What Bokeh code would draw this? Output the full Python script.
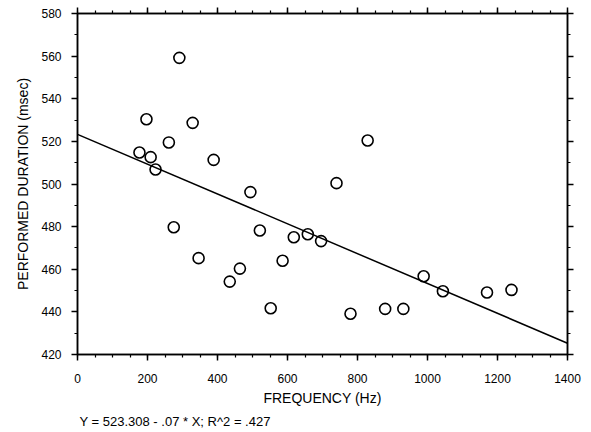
from bokeh.plotting import figure
from bokeh.models import Range1d, LinearAxis, Title, FixedTicker
from bokeh.embed import file_html
from bokeh.resources import INLINE

# data
freq = [177, 197, 209, 223, 261, 275, 291, 329, 346, 389, 435, 464, 494, 521,
        552, 586, 618, 658, 696, 740, 780, 829, 879, 931, 989, 1044, 1170, 1240]
dur = [514.8, 530.4, 512.6, 506.8, 519.5, 479.7, 559.2, 528.7, 465.2, 511.3,
       454.2, 460.3, 496.2, 478.2, 441.7, 464.0, 475.0, 476.4, 473.2, 500.4,
       439.1, 520.4, 441.4, 441.4, 456.7, 449.7, 449.1, 450.3]
fit_x = [0, 1400]
fit_y = [523.308, 425.308]
x_ticks = [0, 200, 400, 600, 800, 1000, 1200, 1400]
y_ticks = [420, 440, 460, 480, 500, 520, 540, 560, 580]
x_label = "FREQUENCY (Hz)"
y_label = "PERFORMED DURATION (msec)"
footnote = "Y = 523.308 - .07 * X; R^2 = .427"

FONT = "Liberation Sans"

p = figure(width=591, height=432, output_backend="svg", toolbar_location=None,
           x_range=Range1d(0, 1400), y_range=Range1d(420, 580),
           min_border_left=77, min_border_right=24, min_border_top=13,
           min_border_bottom=78)
p.background_fill_color = "white"
p.border_fill_color = "white"
p.outline_line_color = "black"
p.outline_line_width = 1.5
p.xgrid.visible = False
p.ygrid.visible = False

def style(ax, ticks, minor, labels=True):
    ax.ticker = FixedTicker(ticks=ticks, minor_ticks=minor)
    ax.axis_line_color = "black"
    ax.axis_line_width = 1.5
    ax.major_tick_line_color = "black"
    ax.major_tick_line_width = 1.5
    ax.minor_tick_line_color = "black"
    ax.minor_tick_line_width = 1.2
    ax.major_tick_out = 6
    ax.major_tick_in = 0
    ax.minor_tick_out = 3
    ax.minor_tick_in = 0
    if labels:
        ax.major_label_text_font = FONT
        ax.major_label_text_font_size = "12px"
        ax.major_label_text_color = "black"
        ax.axis_label_text_font = FONT
        ax.axis_label_text_font_size = "14px"
        ax.axis_label_text_font_style = "normal"
        ax.axis_label_text_color = "black"
    else:
        ax.major_label_overrides = {t: "" for t in ticks}
        ax.major_label_standoff = 0

x_minor = list(range(0, 1401, 50))
y_minor = list(range(420, 581, 10))

xa = p.xaxis[0]
style(xa, x_ticks, x_minor)
xa.axis_label = x_label
xa.major_label_standoff = 13
xa.axis_label_standoff = 4

ya = p.yaxis[0]
style(ya, y_ticks, y_minor)
ya.axis_label = y_label
ya.major_label_standoff = 10
ya.axis_label_standoff = 7

top = LinearAxis()
style(top, x_ticks, x_minor, labels=False)
p.add_layout(top, "above")
right = LinearAxis()
style(right, y_ticks, y_minor, labels=False)
p.add_layout(right, "right")

p.line(fit_x, fit_y, line_color="black", line_width=1.5)
p.scatter(freq, dur, marker="circle", size=11, fill_color=None,
          line_color="black", line_width=1.6)

t = Title(text=footnote, align="left", text_font=FONT, text_font_size="13px",
          text_font_style="normal", text_color="black", offset=2, standoff=7)
p.add_layout(t, "below")

open("out.html", "w").write(file_html(p, INLINE))
